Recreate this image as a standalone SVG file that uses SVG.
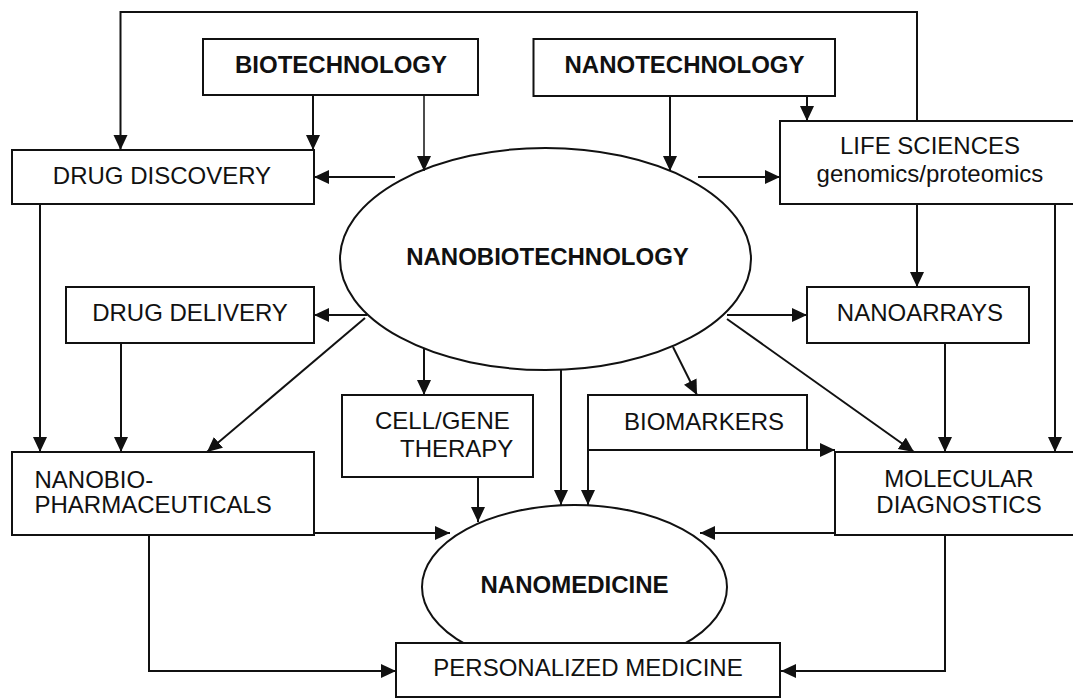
<svg xmlns="http://www.w3.org/2000/svg" width="1073" height="698" viewBox="0 0 1073 698">
<defs>
<style>
.box{fill:#fff;stroke:#111;stroke-width:2}
.ell{fill:#fff;stroke:#111;stroke-width:2}
.t{font-family:"Liberation Sans",Arial,sans-serif;font-size:24px;fill:#111}
.b{font-weight:bold}
.m{text-anchor:middle}
.ca{fill:none;stroke:#111;stroke-width:2;marker-end:url(#ah)}
.thin{stroke-width:1.5}
</style>
<marker id="ah" markerUnits="userSpaceOnUse" markerWidth="16" markerHeight="15" refX="15" refY="7" orient="auto">
<path d="M0,0 L15,7 L0,14 z" fill="#111"/>
</marker>
</defs>
<rect width="1073" height="698" fill="#fff"/>

<g id="nanobiotechnology">
<ellipse class="ell" cx="545.5" cy="259" rx="205.5" ry="111"/>
<text class="t b m" x="547.5" y="265">NANOBIOTECHNOLOGY</text>
</g>
<g id="biotechnology">
<rect class="box" x="203" y="39" width="275" height="56"/>
<text class="t b m" x="341" y="73">BIOTECHNOLOGY</text>
</g>
<g id="nanotechnology">
<rect class="box" x="533.5" y="39" width="301.5" height="57"/>
<text class="t b m" x="684.5" y="73">NANOTECHNOLOGY</text>
</g>
<g id="drug-discovery">
<rect class="box" x="12" y="150" width="302" height="54"/>
<text class="t m" x="162" y="184">DRUG DISCOVERY</text>
</g>
<g id="life-sciences">
<rect class="box" x="780" y="121" width="300" height="83"/>
<text class="t m" x="930" y="154">LIFE SCIENCES</text>
<text class="t m" x="930" y="182">genomics/proteomics</text>
</g>
<g id="drug-delivery">
<rect class="box" x="66" y="287" width="248" height="56"/>
<text class="t m" x="190" y="321">DRUG DELIVERY</text>
</g>
<g id="nanoarrays">
<rect class="box" x="807" y="287" width="222" height="56"/>
<text class="t m" x="920" y="321">NANOARRAYS</text>
</g>
<g id="cell-gene-therapy">
<rect class="box" x="342" y="395" width="191" height="82"/>
<text class="t" x="375" y="429">CELL/GENE</text>
<text class="t" x="400" y="457">THERAPY</text>
</g>
<g id="biomarkers">
<rect class="box" x="588" y="395" width="219" height="55"/>
<text class="t m" x="704" y="430">BIOMARKERS</text>
</g>
<g id="nanobiopharmaceuticals">
<rect class="box" x="12" y="452" width="302" height="83"/>
<text class="t" x="34.5" y="488">NANOBIO-</text>
<text class="t" x="34.5" y="513">PHARMACEUTICALS</text>
</g>
<g id="molecular-diagnostics">
<rect class="box" x="835" y="452" width="248" height="83"/>
<text class="t m" x="959" y="487">MOLECULAR</text>
<text class="t m" x="959" y="513">DIAGNOSTICS</text>
</g>
<g id="nanomedicine">
<ellipse class="ell" cx="574.5" cy="587" rx="152.5" ry="82"/>
<text class="t b m" x="574.5" y="593">NANOMEDICINE</text>
</g>
<g id="personalized-medicine">
<rect class="box" x="396" y="643" width="384" height="54"/>
<text class="t m" x="588" y="676">PERSONALIZED MEDICINE</text>
</g>

<g id="connectors">
<path class="ca" d="M917,121 V12 H120.5 V150"/>
<path class="ca" d="M313,95 V150"/>
<path class="ca thin" d="M424,95 V171"/>
<path class="ca" d="M670,96 V171"/>
<path class="ca" d="M807,96 V121"/>
<path class="ca" d="M395,177 H314"/>
<path class="ca" d="M698,177 H780"/>
<path class="ca" d="M40,204 V452"/>
<path class="ca" d="M121,343 V452"/>
<path class="ca" d="M367,315 H314"/>
<path class="ca" d="M365,318 L207,452"/>
<path class="ca" d="M424,349 V395"/>
<path class="ca" d="M561,370 V505"/>
<path class="ca" d="M673,347 L697,395"/>
<path class="ca" d="M727,315 H807"/>
<path class="ca" d="M727,319 L914,452"/>
<path class="ca" d="M917,204 V287"/>
<path class="ca" d="M1055,204 V452"/>
<path class="ca" d="M945,343 V452"/>
<path class="ca" d="M588,450 V505"/>
<path class="ca" d="M588,450 H835"/>
<path class="ca" d="M478,477 V522"/>
<path class="ca" d="M314,533 H450"/>
<path class="ca" d="M835,533 H700"/>
<path class="ca" d="M149,535 V671 H396"/>
<path class="ca" d="M945,535 V671 H781"/>
</g>
</svg>
